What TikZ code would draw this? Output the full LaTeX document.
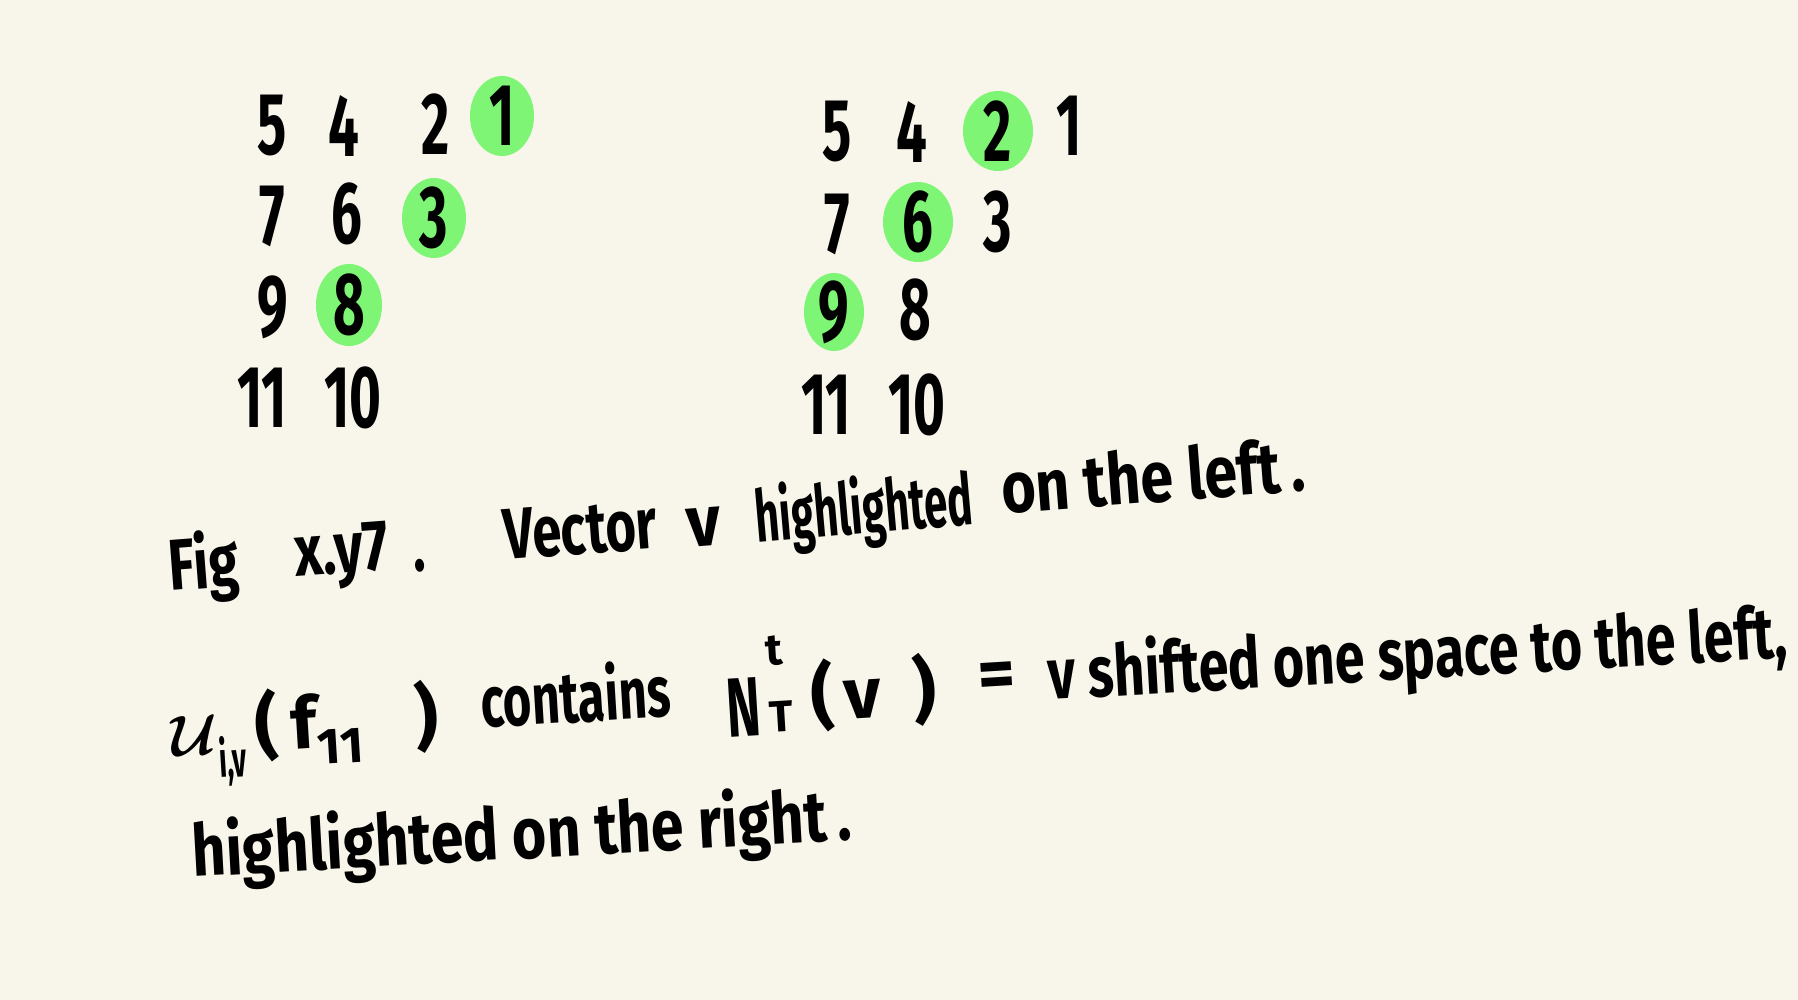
\documentclass[tikz,border=0pt]{standalone}
\usepackage{fontspec}
\setmainfont{Fira Sans}
\usepackage{graphicx}
\usetikzlibrary{shapes.geometric}
\definecolor{paper}{HTML}{F8F6EA}
\definecolor{hl}{HTML}{7EF574}
\newcommand{\dg}[1]{\scalebox{0.62}[1]{\fontsize{44}{44}\selectfont\bfseries #1}}
\newcommand{\fitline}[2]{\resizebox{#1}{\height}{\fontsize{36}{40}\selectfont\bfseries #2}}
\newcommand{\natline}[1]{{\fontsize{36}{40}\selectfont\bfseries #1}}
\newcommand{\smallw}[1]{{\fontsize{22}{22}\selectfont\bfseries #1}}
\tikzset{
  digit/.style={inner sep=0pt, text=black},
  blob/.style={ellipse, fill=hl, inner sep=0pt, minimum width=32pt, minimum height=40pt},
  caption/.style={inner sep=0pt, anchor=base west, text=black}
}
\begin{document}
\begin{tikzpicture}[x=0.5pt,y=-0.5pt]
\fill[paper] (0,0) rectangle (1798,1000);
\useasboundingbox (0,0) rectangle (1798,1000);
% highlights
\node[blob] (hA) at (502,116) {};
\node[blob] (hB) at (434,218) {};
\node[blob, minimum width=33pt, minimum height=41pt] (hC) at (349,305) {};
\node[blob, minimum width=35pt] (hD) at (998,131) {};
\node[blob, minimum width=35pt] (hE) at (918,222) {};
\node[blob, minimum width=30pt, minimum height=39pt] (hF) at (834,312) {};
% left grid
\node[digit] (l5) at (272,126) {\dg{5}};
\node[digit] (l4) at (344,126) {\dg{4}};
\node[digit] (l2) at (436,124) {\dg{2}};
\node[digit] (l1) at (502,116) {\dg{1}};
\node[digit] (l7) at (272,216) {\dg{7}};
\node[digit] (l6) at (347,214) {\dg{6}};
\node[digit] (l3) at (434,218) {\dg{3}};
\node[digit] (l9) at (273,307) {\dg{9}};
\node[digit] (l8) at (349,305) {\dg{8}};
\node[digit] (l11) at (262,398) {\dg{11}};
\node[digit] (l10) at (353,398) {\dg{10}};
% right grid
\node[digit] (r5) at (837,132) {\dg{5}};
\node[digit] (r4) at (912,132) {\dg{4}};
\node[digit] (r2) at (998,131) {\dg{2}};
\node[digit] (r1) at (1069,126) {\dg{1}};
\node[digit] (r7) at (837,224) {\dg{7}};
\node[digit] (r6) at (918,222) {\dg{6}};
\node[digit] (r3) at (998,222) {\dg{3}};
\node[digit] (r9) at (834,312) {\dg{9}};
\node[digit] (r8) at (915,310) {\dg{8}};
\node[digit] (r11) at (826,405) {\dg{11}};
\node[digit] (r10) at (917,405) {\dg{10}};
% caption line 1
\node[caption, rotate=4.4] (a1) at (170,591) {\fitline{35pt}{Fig}};
\node[caption, rotate=4.4] (a2) at (296,577) {\fitline{47pt}{x.y7}};
\node[caption, rotate=4.4] (a3) at (414,572) {\fitline{6pt}{.}};
\node[caption, rotate=4.4] (a4) at (505,560) {\fitline{77pt}{Vector}};
\node[caption, rotate=4.4] (a5) at (688,548) {\fitline{17pt}{v}};
\node[caption, rotate=5] (a6) at (757,543) {\fitline{109pt}{highlighted}};
\node[caption, rotate=4.4] (a7) at (1003,514) {\fitline{152pt}{on the left\,.}};
% caption line 2
\node[caption, rotate=3.5] (b1) at (172,757) {\natline{\scalebox{1.15}{\boldmath$\mathcal{U}$}\resizebox{14pt}{\height}{\textsubscript{i,v}}\hspace{5pt}(\hspace{6pt}f\textsubscript{11}\hspace{26pt})}};
\node[caption, rotate=3.5] (b2) at (482,728) {\fitline{95pt}{contains}};
\node[caption, rotate=3.5] (b3) at (728,738) {\resizebox{17pt}{\height}{\fontsize{42}{42}\selectfont\bfseries N}};
\node[caption, rotate=3.5] (b4) at (766,666) {\smallw{t}};
\node[caption, rotate=3.5] (b5) at (770,733) {\smallw{T}};
\node[caption, rotate=3.5] (b6) at (812,722) {\natline{(\hspace{5pt}v\hspace{16pt})}};
\node[inner sep=0pt, rotate=3.5] (b7) at (997,680) {\natline{=}};
\node[caption, rotate=3.3] (b8) at (1049,700) {\fitline{370pt}{v shifted one space to the left,}};
% caption line 3
\node[caption, rotate=3.2] (c1) at (193,877) {\fitline{330pt}{highlighted on the right\,.}};
\end{tikzpicture}
\end{document}
